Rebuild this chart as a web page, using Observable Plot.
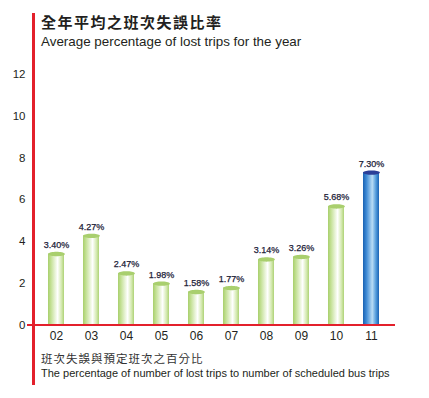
<!DOCTYPE html>
<html><head><meta charset="utf-8">
<script src="https://cdn.jsdelivr.net/npm/d3@7"></script>
<script src="https://cdn.jsdelivr.net/npm/@observablehq/plot@0.6"></script>
<style>
body{margin:0;background:#fff;width:429px;height:398px;overflow:hidden;position:relative;font-family:"Liberation Sans",Arial,sans-serif;color:#231f20;}
#vline{position:absolute;left:32px;top:13px;width:2.5px;height:372px;background:#e3202b;}
#title{position:absolute;left:41px;top:12px;font-family:"Noto Sans CJK TC";font-weight:bold;font-size:15px;letter-spacing:1.5px;line-height:20px;white-space:nowrap;}
#subtitle{position:absolute;left:41px;top:34px;font-size:13.4px;line-height:16px;white-space:nowrap;}
#cap1{position:absolute;left:41px;top:350px;font-family:"Noto Sans CJK TC";font-size:11.5px;letter-spacing:1px;line-height:16px;color:#333;white-space:nowrap;}
#cap2{position:absolute;left:41px;top:366px;font-size:11px;line-height:15px;white-space:nowrap;}
#chart{position:absolute;left:0;top:50px;}
</style>
</head><body>
<div id="title">全年平均之班次失誤比率</div>
<div id="subtitle">Average percentage of lost trips for the year</div>
<div id="chart"></div>
<div id="vline"></div>
<div id="cap1">班次失誤與預定班次之百分比</div>
<div id="cap2">The percentage of number of lost trips to number of scheduled bus trips</div>
<script>
const years = ["02","03","04","05","06","07","08","09","10","11"];
const rates = [3.40, 4.27, 2.47, 1.98, 1.58, 1.77, 3.14, 3.26, 5.68, 7.30];
const rateLabels = ["3.40%","4.27%","2.47%","1.98%","1.58%","1.77%","3.14%","3.26%","5.68%","7.30%"];
const yTicks = [0, 2, 4, 6, 8, 10, 12];
const highlightYear = "11";

const data = years.map((y, i) => ({year: y, rate: rates[i], label: rateLabels[i]}));
const isHi = d => d.year === highlightYear;

const ellipse = {
  draw(ctx) {
    const rx = 8.4, ry = 2.2;
    for (let i = 0; i <= 36; i++) {
      const a = i / 36 * 2 * Math.PI;
      const px = rx * Math.cos(a), py = ry * Math.sin(a);
      if (i === 0) ctx.moveTo(px, py); else ctx.lineTo(px, py);
    }
    ctx.closePath();
  }
};

const plot = Plot.plot({
  width: 429,
  height: 300,
  marginTop: 24,
  marginBottom: 25.5,
  marginLeft: 27,
  marginRight: 34,
  style: {fontFamily: "Liberation Sans, Arial, sans-serif", color: "#231f20", background: "transparent"},
  x: {domain: years, range: [44.6, 382.1], paddingInner: 0.53, paddingOuter: 0, label: null},
  y: {domain: [0, 12], label: null},
  marks: [
    Plot.axisY({ticks: yTicks, tickSize: 0, tickPadding: 2, fontSize: 11.5, label: null}),
    Plot.axisX({tickSize: 0, tickPadding: 6, fontSize: 12, label: null}),
    Plot.barY(data, {filter: d => !isHi(d), x: "year", y: "rate", fill: "url(#gGreen)"}),
    Plot.barY(data, {filter: isHi, x: "year", y: "rate", fill: "url(#gBlue)"}),
    Plot.dot(data, {filter: d => !isHi(d), x: "year", y: "rate", symbol: ellipse, fill: "#a9cf6e", stroke: "none", r: 5}),
    Plot.dot(data, {filter: isHi, x: "year", y: "rate", symbol: ellipse, fill: "#2b3f98", stroke: "none", r: 5}),
    Plot.text(data, {x: "year", y: "rate", text: "label", dy: -9, fontSize: 9, fill: "#1c2238", stroke: "#1c2238", strokeWidth: 0.25, letterSpacing: -0.5}),
    Plot.ruleY([0], {stroke: "#e3202b", strokeWidth: 2})
  ]
});

const defs = d3.select(plot).insert("defs", ":first-child");
const g = defs.append("linearGradient").attr("id", "gGreen").attr("x1", 0).attr("x2", 1).attr("y1", 0).attr("y2", 0);
[[0, "#a8cf6c"], [0.18, "#c3e094"], [0.6, "#ffffff"], [0.85, "#d2e8ad"], [1, "#aed276"]].forEach(([o, c]) => g.append("stop").attr("offset", o).attr("stop-color", c));
const b = defs.append("linearGradient").attr("id", "gBlue").attr("x1", 0).attr("x2", 1).attr("y1", 0).attr("y2", 0);
[[0, "#1a62b2"], [0.2, "#3b88d4"], [0.58, "#b8dcf5"], [0.82, "#4d98da"], [1, "#1b63b3"]].forEach(([o, c]) => b.append("stop").attr("offset", o).attr("stop-color", c));

document.getElementById("chart").appendChild(plot);
</script>
</body></html>
